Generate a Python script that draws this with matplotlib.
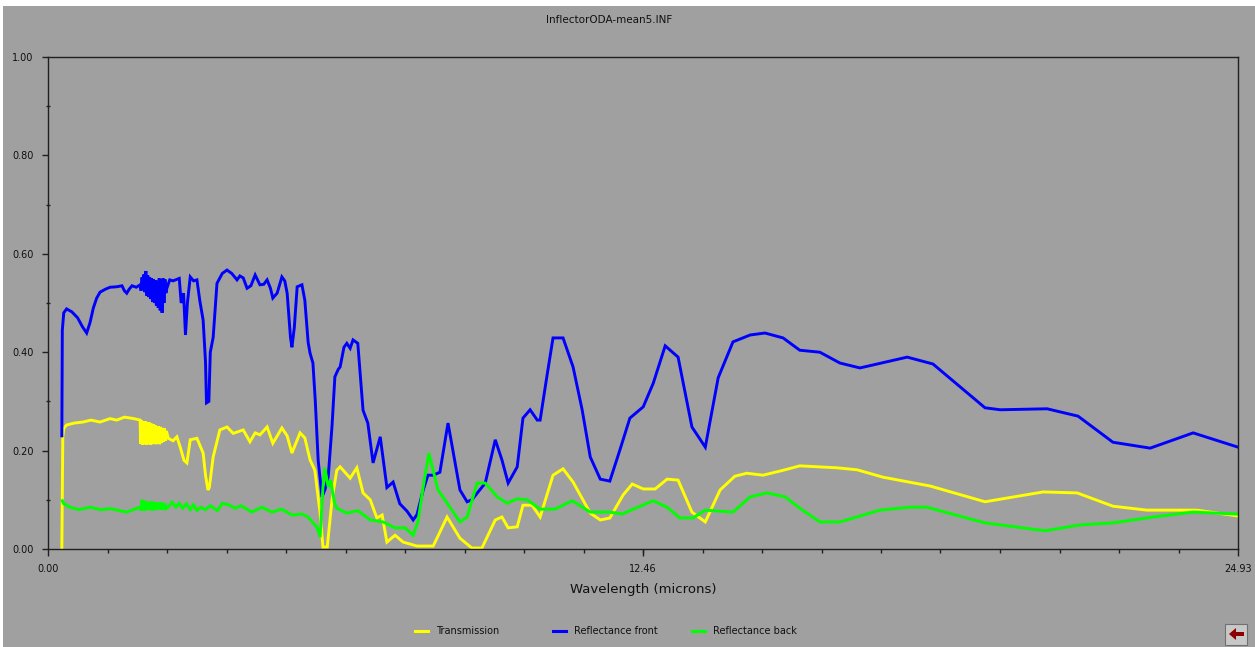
import matplotlib
matplotlib.use("Agg")
import matplotlib.pyplot as plt
from matplotlib.lines import Line2D
from matplotlib.patches import Rectangle, Polygon

# Spectrum readings (wavelength in microns)
trans_wl = [0.29, 0.31, 0.33, 0.39, 0.55, 0.73, 0.90, 1.09, 1.30, 1.44, 1.60, 1.80, 1.93,
            1.94, 1.96, 1.98, 2.00, 2.02, 2.04, 2.06, 2.08, 2.10, 2.12, 2.14, 2.16, 2.18, 2.20,
            2.22, 2.24, 2.26, 2.28, 2.30, 2.32, 2.34, 2.36, 2.38, 2.40, 2.42, 2.44, 2.46, 2.48,
            2.52, 2.62, 2.70, 2.77, 2.85, 2.91, 2.98, 3.12, 3.25, 3.30, 3.35, 3.38, 3.46, 3.60,
            3.75, 3.88, 4.09, 4.23, 4.34, 4.44, 4.59, 4.71, 4.90, 5.01, 5.11, 5.28, 5.38, 5.49,
            5.59, 5.70, 5.76, 5.85, 5.95, 6.05, 6.12, 6.33, 6.47, 6.60, 6.75, 6.89, 7.00, 7.10,
            7.27, 7.44, 7.73, 8.07, 8.36, 8.63, 8.88, 9.09, 9.37, 9.51, 9.64, 9.83, 9.95, 10.14,
            10.31, 10.58, 10.79, 11.00, 11.36, 11.57, 11.77, 12.05, 12.24, 12.47, 12.72, 12.97,
            13.20, 13.49, 13.77, 14.08, 14.39, 14.64, 14.98, 15.40, 15.75, 16.53, 16.95, 17.49,
            18.48, 19.63, 20.85, 21.56, 22.31, 23.02, 24.07, 24.93]
trans = [0.0, 0.228, 0.245, 0.252, 0.256, 0.258, 0.262, 0.258, 0.265, 0.262, 0.268, 0.265, 0.262,
         0.214, 0.262, 0.212, 0.26, 0.213, 0.26, 0.212, 0.258, 0.214, 0.257, 0.212, 0.255, 0.213,
         0.254, 0.214, 0.252, 0.213, 0.25, 0.215, 0.249, 0.213, 0.248, 0.216, 0.246, 0.218, 0.245,
         0.22, 0.24,
         0.225, 0.22, 0.228, 0.207, 0.18, 0.175, 0.222, 0.225, 0.195, 0.15, 0.12, 0.125, 0.187, 0.242,
         0.248, 0.235, 0.242, 0.218, 0.236, 0.232, 0.248, 0.215, 0.246, 0.23, 0.195, 0.236, 0.226, 0.181,
         0.16, 0.073, 0.004, 0.004, 0.10, 0.16, 0.167, 0.144, 0.165, 0.114, 0.10, 0.063, 0.069, 0.014,
         0.028, 0.014, 0.006, 0.006, 0.065, 0.022, 0.002, 0.002, 0.059, 0.065, 0.043, 0.045, 0.089, 0.089,
         0.065, 0.15, 0.163, 0.136, 0.073, 0.059, 0.063, 0.11, 0.132, 0.122, 0.122, 0.142,
         0.14, 0.075, 0.055, 0.12, 0.148, 0.154, 0.15, 0.16, 0.169, 0.165, 0.161, 0.146,
         0.128, 0.096, 0.116, 0.114, 0.087, 0.079, 0.079, 0.067]

front_wl = [0.29, 0.30, 0.33, 0.39, 0.50, 0.62, 0.72, 0.81, 0.88, 0.95, 1.02, 1.09, 1.20, 1.30,
            1.44, 1.55, 1.60, 1.65, 1.70, 1.76, 1.85, 1.93,
            1.95, 1.97, 1.99, 2.01, 2.03, 2.05, 2.07, 2.09, 2.11, 2.13, 2.15, 2.17, 2.19, 2.21,
            2.23, 2.25, 2.27, 2.29, 2.31, 2.33, 2.35, 2.37, 2.39, 2.41, 2.43, 2.45, 2.47, 2.49,
            2.55, 2.62, 2.70, 2.75, 2.79, 2.84, 2.88, 2.92, 2.98, 3.05, 3.12, 3.18, 3.25, 3.30,
            3.32, 3.37, 3.40, 3.46, 3.54, 3.65, 3.75, 3.85, 3.96, 4.02, 4.09, 4.17, 4.25, 4.34,
            4.44, 4.52, 4.59, 4.66, 4.71, 4.80, 4.90, 4.96, 5.01, 5.08, 5.11, 5.16, 5.22, 5.32,
            5.38, 5.45, 5.49, 5.55, 5.60, 5.66, 5.74, 5.80, 5.87, 5.95, 6.01, 6.08, 6.12, 6.20,
            6.26, 6.33, 6.39, 6.49, 6.60, 6.70, 6.81, 6.96, 7.10, 7.23, 7.37, 7.52, 7.65, 7.73,
            7.86, 7.96, 8.07, 8.21, 8.38, 8.63, 8.78, 8.88, 9.16, 9.37, 9.51, 9.64, 9.83, 9.95,
            10.10, 10.25, 10.31, 10.45, 10.58, 10.79, 11.00, 11.19, 11.36, 11.57, 11.77, 11.98,
            12.19, 12.47, 12.68, 12.93, 13.20, 13.49, 13.77, 14.04, 14.35, 14.71, 15.02, 15.40,
            15.75, 16.17, 16.59, 17.01, 18.00, 18.54, 19.63, 19.95, 20.93, 21.58, 22.31, 23.09,
            23.99, 24.93]
front = [0.23, 0.445, 0.48, 0.488, 0.482, 0.47, 0.452, 0.439, 0.46, 0.49, 0.51, 0.522, 0.528, 0.532,
         0.533, 0.535, 0.525, 0.52, 0.528, 0.535, 0.532, 0.537,
         0.525, 0.552, 0.528, 0.558, 0.522, 0.565, 0.515, 0.556, 0.512, 0.552, 0.508, 0.55, 0.502,
         0.548, 0.50, 0.546, 0.495, 0.545, 0.49, 0.55, 0.485, 0.548, 0.48, 0.55, 0.50, 0.548, 0.52,
         0.53,
         0.547, 0.545, 0.548, 0.55, 0.50, 0.52, 0.435, 0.50, 0.553, 0.545, 0.547, 0.505, 0.465, 0.38,
         0.297, 0.30, 0.40, 0.43, 0.54, 0.56, 0.567, 0.56, 0.547, 0.555, 0.551, 0.53, 0.535, 0.557,
         0.537, 0.538, 0.547, 0.53, 0.51, 0.52, 0.553, 0.545, 0.52, 0.43, 0.41, 0.45, 0.533, 0.537,
         0.506, 0.42, 0.398, 0.378, 0.30, 0.18, 0.106, 0.12, 0.146, 0.25, 0.35, 0.365, 0.37, 0.41,
         0.418, 0.408, 0.425, 0.418, 0.282, 0.256, 0.175, 0.228, 0.125, 0.136, 0.092, 0.077, 0.059, 0.07,
         0.12, 0.15, 0.15, 0.156, 0.256, 0.12, 0.096, 0.10, 0.134, 0.222, 0.181, 0.134, 0.167, 0.266,
         0.283, 0.262, 0.262, 0.35, 0.429, 0.429, 0.37, 0.283, 0.187, 0.142, 0.138, 0.201,
         0.266, 0.289, 0.337, 0.413, 0.39, 0.248, 0.207, 0.348, 0.421, 0.435, 0.439, 0.429,
         0.404, 0.40, 0.378, 0.368, 0.39, 0.376, 0.287, 0.283, 0.285, 0.27, 0.217, 0.205,
         0.236, 0.207]

back_wl = [0.30, 0.33, 0.46, 0.65, 0.88, 1.10, 1.30, 1.65, 1.93,
           1.95, 1.97, 1.99, 2.01, 2.03, 2.05, 2.07, 2.09, 2.11, 2.13, 2.15, 2.17, 2.19, 2.21,
           2.23, 2.25, 2.27, 2.29, 2.31, 2.33, 2.35, 2.37, 2.39, 2.41, 2.43, 2.45, 2.47, 2.52,
           2.60, 2.68, 2.75, 2.82, 2.90, 2.98, 3.05, 3.12, 3.20, 3.30, 3.40, 3.55, 3.65, 3.78,
           3.92, 4.05, 4.27, 4.48, 4.69, 4.90, 5.11, 5.32, 5.45, 5.64, 5.70, 5.76, 5.80, 5.87,
           5.92, 6.00, 6.05, 6.26, 6.49, 6.75, 7.02, 7.27, 7.48, 7.65, 7.75, 7.86, 7.98, 8.17,
           8.42, 8.63, 8.78, 8.99, 9.16, 9.41, 9.62, 9.83, 10.04, 10.31, 10.62, 10.98, 11.36,
           11.77, 12.03, 12.26, 12.68, 12.97, 13.24, 13.51, 13.77, 14.35, 14.71, 15.06, 15.44,
           15.75, 16.17, 16.59, 17.43, 18.06, 18.41, 19.63, 20.89, 21.62, 22.31, 23.15, 23.99,
           24.93]
back = [0.098, 0.092, 0.085, 0.08, 0.085, 0.08, 0.082, 0.075, 0.085,
        0.078, 0.10, 0.079, 0.098, 0.078, 0.097, 0.08, 0.096, 0.079, 0.095, 0.08, 0.097, 0.078,
        0.095, 0.081, 0.094, 0.079, 0.095, 0.082, 0.093, 0.08, 0.095, 0.081, 0.092, 0.08, 0.093,
        0.082, 0.085,
        0.095, 0.085, 0.093, 0.083, 0.092, 0.08, 0.09, 0.078, 0.085, 0.08, 0.088, 0.078, 0.093, 0.09,
        0.083, 0.088, 0.075, 0.085, 0.075, 0.081, 0.069, 0.071, 0.065, 0.043, 0.024, 0.126, 0.165, 0.126,
        0.14, 0.095, 0.083, 0.073, 0.078, 0.059, 0.055, 0.043, 0.043, 0.028, 0.055, 0.126, 0.195, 0.12,
        0.085, 0.055, 0.065, 0.134, 0.134, 0.106, 0.093, 0.102, 0.10, 0.081, 0.081, 0.098, 0.075,
        0.075, 0.071, 0.081, 0.098, 0.085, 0.063, 0.063, 0.079, 0.075, 0.106, 0.114, 0.106,
        0.083, 0.055, 0.055, 0.079, 0.085, 0.085, 0.053, 0.037, 0.049, 0.053, 0.065, 0.075,
        0.071]

labels = ['Transmission', 'Reflectance front', 'Reflectance back']
colors = ['#ffff00', '#0000ff', '#00ff00']
x_max = 24.93
x_ticks = [0.0, 12.46, 24.93]

BG = '#a0a0a0'
INK = '#101010'

fig = plt.figure(figsize=(12.55, 6.47), dpi=100, facecolor=BG)
ax = fig.add_axes([48 / 1255, 1 - 549 / 647, 1190 / 1255, 492 / 647])
ax.set_facecolor(BG)

series = [(trans_wl, trans), (front_wl, front), (back_wl, back)]
for (wl, vals), c in zip(series, colors):
    ax.plot(wl, vals, color=c, lw=2.1, solid_joinstyle='miter')

ax.set_xlim(0, x_max)
ax.set_ylim(0, 1.0)

for s in ax.spines.values():
    s.set_color('#202020')
    s.set_linewidth(1.0)

ax.set_yticks([0, 0.2, 0.4, 0.6, 0.8, 1.0])
ax.set_yticks([0.1, 0.3, 0.5, 0.7, 0.9], minor=True)
ax.set_yticklabels(['%.2f' % v for v in [0, 0.2, 0.4, 0.6, 0.8, 1.0]])
ax.set_xticks(x_ticks)
ax.set_xticks([x_max * i / 20 for i in range(21)], minor=True)
ax.set_xticklabels(['%.2f' % v for v in x_ticks])

ax.tick_params(axis='y', which='major', direction='out', length=4.5, width=1,
               color='#202020', labelsize=7, labelcolor=INK, pad=6)
ax.tick_params(axis='y', which='minor', direction='inout', length=3, width=1, color='#202020')
ax.tick_params(axis='x', which='major', direction='out', length=5, width=1,
               color='#202020', labelsize=7, labelcolor=INK, pad=6)
ax.tick_params(axis='x', which='minor', direction='out', length=3, width=1, color='#202020')

ax.set_xlabel('Wavelength (microns)', fontsize=9.5, color=INK, labelpad=6)

fig.text(609 / 1255, 1 - 20 / 647, 'InflectorODA-mean5.INF', fontsize=7.5, color=INK,
         ha='center', va='center')

# legend row along the bottom
leg_x = [415, 553, 692]
leg_y = 1 - 631 / 647
for lx, lab, c in zip(leg_x, labels, colors):
    fig.add_artist(Line2D([lx / 1255, (lx + 13) / 1255], [leg_y, leg_y], color=c, lw=2.2))
    fig.text((lx + 21) / 1255, leg_y, lab, fontsize=7, color=INK, ha='left', va='center')

# little back button in the corner
fig.add_artist(Rectangle((1225 / 1255, 1 - 645 / 647), 22 / 1255, 21 / 647,
                         facecolor='#c8c8c8', edgecolor='#707070', lw=0.8))
fig.add_artist(Polygon([(1229 / 1255, 1 - 634 / 647), (1236 / 1255, 1 - 628 / 647),
                        (1236 / 1255, 1 - 632 / 647), (1244 / 1255, 1 - 632 / 647),
                        (1244 / 1255, 1 - 636 / 647), (1236 / 1255, 1 - 636 / 647),
                        (1236 / 1255, 1 - 640 / 647)], closed=True, facecolor='#8b0000',
                       edgecolor='none'))

# white window border top and left
fig.add_artist(Rectangle((0, 1 - 6 / 647), 1, 6 / 647, facecolor='white', edgecolor='none'))
fig.add_artist(Rectangle((0, 0), 3 / 1255, 1, facecolor='white', edgecolor='none'))

fig.savefig('out.png', dpi=100, facecolor=BG)
